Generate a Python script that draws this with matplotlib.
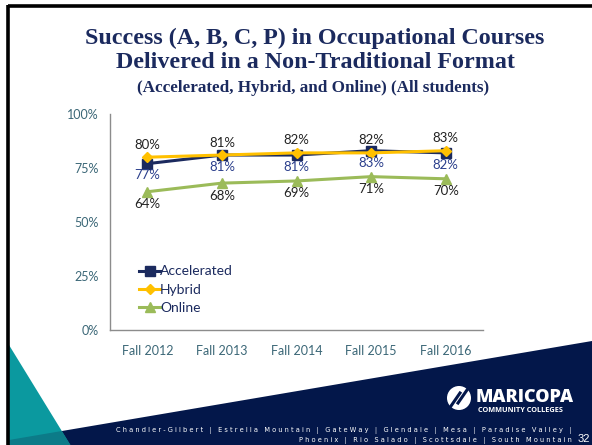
import matplotlib.pyplot as plt
from matplotlib.patches import Polygon, Circle
from matplotlib.ticker import PercentFormatter

# data
terms = ["Fall 2012", "Fall 2013", "Fall 2014", "Fall 2015", "Fall 2016"]
accelerated = [77, 81, 81, 83, 82]
hybrid = [80, 81, 82, 82, 83]
online = [64, 68, 69, 71, 70]

campuses_1 = "Chandler-Gilbert | Estrella Mountain | GateWay | Glendale | Mesa | Paradise Valley |"
campuses_2 = "Phoenix | Rio Salado | Scottsdale | South Mountain"

NAVY = "#1b2a5e"
GOLD = "#ffc000"
GREEN = "#9bbb59"
TICK = "#3b6777"
FOOT = "#03174a"
SERIF = ["Liberation Serif", "DejaVu Serif"]

plt.rcParams["font.family"] = ["Lato", "DejaVu Sans"]

fig = plt.figure(figsize=(5.92, 4.45), dpi=100)
W, H = 592, 445


def px(x, y):
    # slide pixel -> figure fraction
    return x / W, 1 - y / H


# slide decoration: border, teal wedge, navy footer band
bg = fig.add_axes([0, 0, 1, 1])
bg.set_xlim(0, W)
bg.set_ylim(H, 0)
bg.axis("off")
bg.add_patch(Polygon([(9, 440), (592, 341), (592, 446), (9, 446)], closed=True, color=FOOT, lw=0))
bg.add_patch(Polygon([(9, 345), (71, 446), (9, 446)], closed=True, color="#0b999f", lw=0))
bg.add_patch(Polygon([(9, 440), (61.8, 431), (71, 446), (9, 446)], closed=True, color="#0c7b88", lw=0))
bg.plot([8, 592], [5.5, 5.5], color="black", lw=2.6, solid_capstyle="butt")
bg.plot([8, 8], [5, 446], color="black", lw=2.6, solid_capstyle="butt")

# logo
bg.add_patch(Circle((459, 398), 12, color="white", lw=0))
bg.plot([451, 460], [406, 393], color=FOOT, lw=2.2)
bg.plot([458, 467], [403, 390], color=FOOT, lw=2.2)
fig.text(*px(476, 397), "MARICOPA", color="white", fontsize=13, fontweight="heavy",
         family=["Open Sans", "DejaVu Sans"], va="center", ha="left")
fig.text(*px(478, 411), "COMMUNITY COLLEGES", color="white", fontsize=5.3, fontweight="bold",
         family=["Open Sans", "DejaVu Sans"], va="center", ha="left")

fig.text(*px(572, 431), " ".join(campuses_1), color="white", fontsize=4.75, ha="right", va="center",
         family=["DejaVu Sans"])
fig.text(*px(572, 440), " ".join(campuses_2), color="white", fontsize=4.75, ha="right", va="center",
         family=["DejaVu Sans"])
fig.text(*px(590, 439), "32", color="white", fontsize=8, ha="right", va="center",
         family=["Liberation Sans", "DejaVu Sans"])

# titles
fig.text(*px(315, 38), "Success (A, B, C, P) in Occupational Courses", color=NAVY,
         fontsize=17.3, fontweight="bold", family=SERIF, ha="center", va="center")
fig.text(*px(315, 63), "Delivered in a Non-Traditional Format", color=NAVY,
         fontsize=17.3, fontweight="bold", family=SERIF, ha="center", va="center")
fig.text(*px(313, 88), "(Accelerated, Hybrid, and Online) (All students)", color=NAVY,
         fontsize=12.3, fontweight="bold", family=SERIF, ha="center", va="center")

# chart
ax = fig.add_axes([110 / W, 1 - 330 / H, (483 - 110) / W, (330 - 114) / H])
x = list(range(len(terms)))
ax.plot(x, accelerated, color=NAVY, marker="s", ms=6.5, lw=2.2, label="Accelerated")
ax.plot(x, hybrid, color=GOLD, marker="D", ms=5, lw=2.2, label="Hybrid")
ax.plot(x, online, color=GREEN, marker="^", ms=7, lw=2.2, label="Online")

for i in x:
    ax.annotate(f"{hybrid[i]}%", (i, hybrid[i]), xytext=(0, 9), textcoords="offset points",
                ha="center", va="center", fontsize=9.5, color="#222222")
    ax.annotate(f"{accelerated[i]}%", (i, accelerated[i]), xytext=(0, -8.5), textcoords="offset points",
                ha="center", va="center", fontsize=9.5, color="#2b3f8c")
    ax.annotate(f"{online[i]}%", (i, online[i]), xytext=(0, -9), textcoords="offset points",
                ha="center", va="center", fontsize=9.5, color="#222222")

ax.set_xlim(-0.5, 4.5)
ax.set_ylim(0, 100)
ax.set_yticks([0, 25, 50, 75, 100])
ax.yaxis.set_major_formatter(PercentFormatter(decimals=0))
ax.set_xticks(x)
ax.set_xticklabels(terms)
ax.tick_params(axis="both", length=0, colors=TICK, labelsize=9)
ax.tick_params(axis="x", pad=11)
ax.tick_params(axis="y", pad=8)
for side in ["top", "right"]:
    ax.spines[side].set_visible(False)
for side in ["left", "bottom"]:
    ax.spines[side].set_color("#8c8c8c")
    ax.spines[side].set_linewidth(1)
ax.patch.set_alpha(0)

leg = ax.legend(loc="lower left", bbox_to_anchor=(0.06, 0.042), frameon=False, fontsize=10,
                handlelength=1.5, handletextpad=0.0, labelspacing=0.45, borderpad=0)
for t in leg.get_texts():
    t.set_color(NAVY)

fig.savefig("out.png", dpi=100)
